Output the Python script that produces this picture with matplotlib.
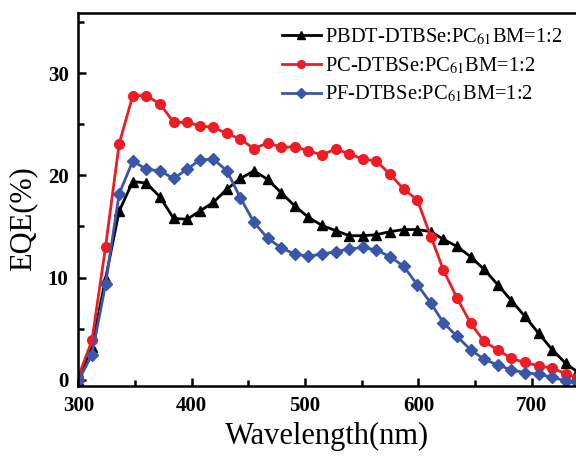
import matplotlib
matplotlib.use("Agg")
import matplotlib.pyplot as plt
from matplotlib.ticker import MultipleLocator

plt.rcParams['font.family'] = ['Liberation Serif', 'DejaVu Serif']
plt.rcParams['mathtext.fontset'] = 'stix'

wavelength = [300, 312, 324, 336, 348, 360, 372, 384, 396, 407, 419, 431, 443,
              455, 467, 479, 491, 503, 515, 527, 539, 551, 563, 575, 587, 599,
              611, 622, 634, 646, 658, 670, 682, 694, 706, 718, 730, 740]

eqe_pbdt = [0.0, 3.2, 9.9, 16.5, 19.4, 19.25, 17.9, 15.8, 15.7, 16.5, 17.35,
            18.65, 19.7, 20.45, 19.6, 18.3, 17.0, 15.9, 15.1, 14.6, 14.1, 14.1,
            14.2, 14.5, 14.7, 14.7, 14.5, 13.75, 13.05, 12.05, 10.8, 9.3, 7.75,
            6.2, 4.55, 2.95, 1.6, 0.8]

eqe_pc = [0.3, 3.85, 13.0, 23.1, 27.8, 27.8, 27.0, 25.2, 25.2, 24.85, 24.7,
          24.1, 23.55, 22.6, 23.2, 22.75, 22.8, 22.4, 22.0, 22.6, 22.1, 21.6,
          21.4, 20.1, 18.65, 17.6, 14.0, 10.75, 8.0, 5.55, 3.75, 2.93, 2.1,
          1.7, 1.37, 1.15, 0.6, 0.2]

eqe_pf = [-0.1, 2.45, 9.35, 18.2, 21.4, 20.6, 20.45, 19.7, 20.6, 21.5, 21.6,
          20.45, 17.8, 15.4, 13.85, 12.9, 12.3, 12.1, 12.3, 12.55, 12.8, 12.95,
          12.7, 12.05, 11.1, 9.3, 7.5, 5.6, 4.25, 2.95, 2.0, 1.45, 0.97, 0.7,
          0.55, 0.25, -0.1, -0.2]

labels = ['PBDT-DTBSe:PC$_{61}$BM=1:2',
          'PC-DTBSe:PC$_{61}$BM=1:2',
          'PF-DTBSe:PC$_{61}$BM=1:2']

fig = plt.figure(figsize=(5.76, 4.59), dpi=100)
ax = fig.add_axes([0.136, 0.158, 0.864, 0.814])

ax.plot(wavelength, eqe_pbdt, '-^', color='black', lw=2, ms=7, label=labels[0])
ax.plot(wavelength, eqe_pc, '-o', color='#ee1c25', lw=2, ms=7, label=labels[1])
ax.plot(wavelength, eqe_pf, '-D', color='#3a56a8', lw=2, ms=6.2, label=labels[2])

ax.set_xlim(300, 739)
ax.set_ylim(-0.65, 35.9)
ax.xaxis.set_major_locator(MultipleLocator(100))
ax.xaxis.set_minor_locator(MultipleLocator(50))
ax.yaxis.set_major_locator(MultipleLocator(10))
ax.yaxis.set_minor_locator(MultipleLocator(5))
ax.tick_params(which='both', direction='in', width=1.8, labelsize=15, pad=7)
ax.tick_params(which='major', length=6)
ax.tick_params(which='minor', length=4)
for lab in ax.get_xticklabels() + ax.get_yticklabels():
    lab.set_fontweight('bold')

for side in ['left', 'bottom', 'top']:
    ax.spines[side].set_linewidth(1.8)
ax.spines['right'].set_visible(False)

ax.set_xlabel('Wavelength(nm)', fontsize=22, labelpad=4)
ax.set_ylabel('EQE(%)', fontsize=22)
ax.yaxis.set_label_coords(-0.082, 0.45)

ax.legend(loc='upper right', frameon=False, fontsize=14.8, handlelength=1.9,
          handletextpad=0.2, labelspacing=0.4, borderaxespad=0.25,
          markerscale=0.8)

fig.savefig('out.png', dpi=100)
